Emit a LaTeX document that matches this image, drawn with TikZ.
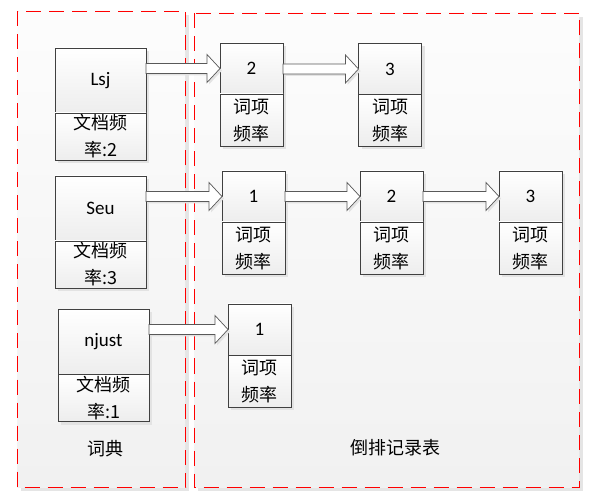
\documentclass[tikz,border=0pt]{standalone}
\usepackage{fontspec}
\setmainfont{Carlito}
\newfontfamily\cjk{Noto Sans CJK SC}
\usetikzlibrary{positioning,shadows,calc}

\definecolor{framered}{RGB}{255,0,0}

\tikzset{
  frameshadow/.style={fill=gray!20},
  frameshade/.style={top color=gray!2, bottom color=gray!11},
  frameline/.style={draw=framered, line width=1.4pt, dash pattern=on 15pt off 8pt},
  cell/.style={draw=black!75, line width=0.8pt, inner sep=0pt, outer sep=0pt,
    top color=white, bottom color=gray!14,
    drop shadow={shadow xshift=3pt, shadow yshift=-3pt, fill=gray!22, opacity=1}},
  dhead/.style={cell, minimum width=91pt, minimum height=65pt,
    font=\fontsize{19}{22}\selectfont},
  dbody/.style={cell, minimum width=91pt, minimum height=47pt, align=center,
    font=\cjk\fontsize{18}{27}\selectfont},
  phead/.style={cell, minimum width=63pt, minimum height=51pt,
    font=\fontsize{19}{22}\selectfont},
  pbody/.style={cell, minimum width=63pt, minimum height=52pt, align=center,
    font=\cjk\fontsize{18}{27}\selectfont},
  link/.style={draw=black!65, line width=0.7pt, fill=white,
    drop shadow={shadow xshift=2pt, shadow yshift=-2pt, fill=gray!22, opacity=1}},
  caption/.style={font=\cjk\fontsize{18}{22}\selectfont}
}

% block arrow from one record to the next
\newcommand{\linkarrow}[2]{%
  \path[link] let \p1=(#1.east), \p2=(#2.west) in
       (\x1,\y2-5pt)
    -- (\x2-13pt,\y2-5pt)
    -- (\x2-13pt,\y2-14pt)
    -- (\x2,\y2)
    -- (\x2-13pt,\y2+14pt)
    -- (\x2-13pt,\y2+5pt)
    -- (\x1,\y2+5pt) -- cycle;}

\begin{document}
\begin{tikzpicture}[x=1pt,y=-1pt]
  \useasboundingbox[fill=white] (0,0) rectangle (594,502);

  % Frames
  \fill[frameshadow] (21,15) rectangle (189,491);
  \fill[frameshadow] (198,17) rectangle (583,491);
  \shade[frameshade] (17,11) rectangle (185,487);
  \shade[frameshade] (194,13) rectangle (579,487);
  \draw[frameline] (17.5,11.5) rectangle (185.5,487.5);
  \draw[frameline] (194.5,13.5) rectangle (579.5,487.5);

  % Dictionary
  \node[dhead] (lsj) at (100.5,80.5) {Lsj};
  \node[dbody, below=0pt of lsj] (lsj-df) {文档频\\率:2};
  \node[dhead] (seu) at (100.5,208.5) {Seu};
  \node[dbody, below=0pt of seu] (seu-df) {文档频\\率:3};
  \node[dhead] (njust) at (103.5,342) {njust};
  \node[dbody, below=0pt of njust] (njust-df) {文档频\\率:1};

  % Postings
  \node[phead] (p11) at (251.5,68.5) {2};
  \node[pbody, below=0pt of p11] (p11-tf) {词项\\频率};
  \node[phead] (p12) at (390,69) {3};
  \node[pbody, below=0pt of p12] (p12-tf) {词项\\频率};

  \node[phead] (p21) at (253.5,196.5) {1};
  \node[pbody, below=0pt of p21] (p21-tf) {词项\\频率};
  \node[phead] (p22) at (391.5,196.5) {2};
  \node[pbody, below=0pt of p22] (p22-tf) {词项\\频率};
  \node[phead] (p23) at (530.5,196.5) {3};
  \node[pbody, below=0pt of p23] (p23-tf) {词项\\频率};

  \node[phead] (p31) at (259.5,329.5) {1};
  \node[pbody, below=0pt of p31] (p31-tf) {词项\\频率};

  % Links
  \linkarrow{lsj}{p11}
  \linkarrow{p11}{p12}
  \linkarrow{seu}{p21}
  \linkarrow{p21}{p22}
  \linkarrow{p22}{p23}
  \linkarrow{njust}{p31}

  % Captions
  \node[caption] (dict) at (105,449) {词典};
  \node[caption] (post) at (395,448) {倒排记录表};
\end{tikzpicture}
\end{document}
